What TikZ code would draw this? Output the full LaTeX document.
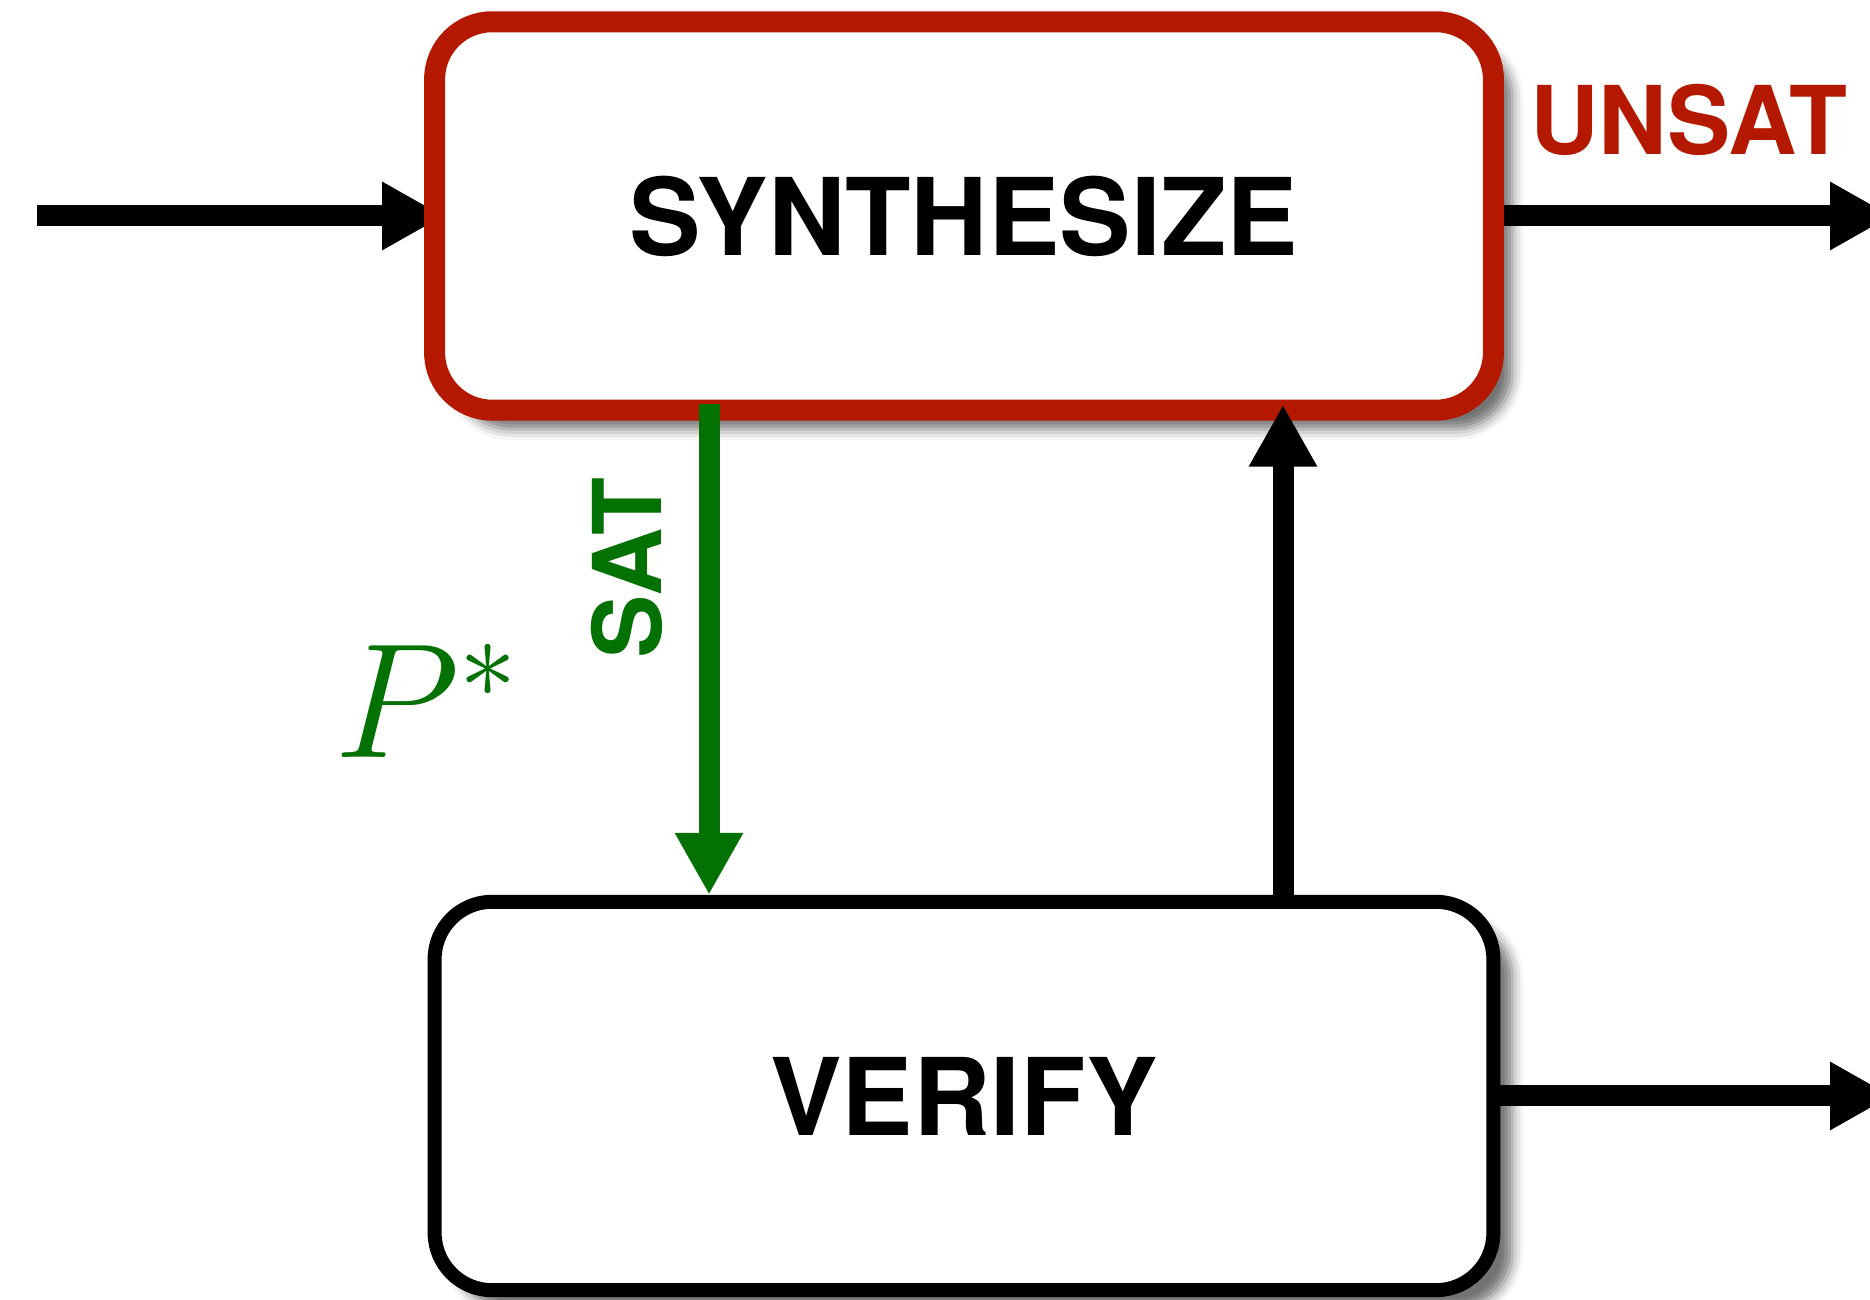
\RequirePackage{fix-cm}
\documentclass[tikz,border=0pt]{standalone}
\usepackage{fontspec}
\setsansfont{TeX Gyre Heros}
\usetikzlibrary{arrows.meta,backgrounds,shadows.blur}
\definecolor{unsatred}{HTML}{B41900}
\definecolor{satgreen}{HTML}{037103}
\tikzset{
  stage/.style={rounded corners=1.15cm,fill=white,minimum width=21.18cm,minimum height=7.77cm,
    font=\sffamily\bfseries\fontsize{61}{70}\selectfont,
    blur shadow={shadow xshift=0.38cm,shadow yshift=-0.38cm,shadow blur radius=0.22cm,shadow opacity=55}},
  stagered/.style={stage,draw=unsatred,line width=0.42cm},
  stageblk/.style={stage,draw=black,line width=0.28cm},
  ar/.style={-{Triangle[length=1.24cm,width=1.28cm]},line width=0.42cm},
  lbl/.style={font=\sffamily\bfseries\fontsize{54}{60}\selectfont},
}
\begin{document}
\begin{tikzpicture}[x=0.02cm,y=0.02cm]
  \path[use as bounding box,clip] (0,0) rectangle (1870,1300);
  \coordinate (in) at (37,1084);
  \coordinate (outs) at (1892,1084);
  \coordinate (outv) at (1892,204);
  \coordinate (satx) at (709,0);
  \coordinate (backx) at (1283,0);

  \node[stagered] (synth) at (964,1084) {SYNTHESIZE};
  \node[stageblk] (verify) at (964,204) {VERIFY};

  % input runs in under the red frame
  \begin{scope}[on background layer]
    \draw[ar,shorten >=-0.4cm] (in) -- (synth.west);
  \end{scope}
  \draw[ar] (synth.east) -- (outs);
  \draw[ar] (verify.east) -- (outv);
  \draw[ar,color=satgreen,shorten <=-0.34cm] (synth.south -| satx) -- (verify.north -| satx);
  \draw[ar,shorten >=-0.32cm] (verify.north -| backx) -- (synth.south -| backx);

  \node[lbl,text=unsatred] (unsat) at (1689,1180) {UNSAT};
  \node[lbl,text=satgreen,rotate=90] (sat) at (627,732) {SAT};
  \node[text=satgreen,font=\fontsize{93}{100}\selectfont] (pstar) at (426,599) {$P^*$};
\end{tikzpicture}
\end{document}
